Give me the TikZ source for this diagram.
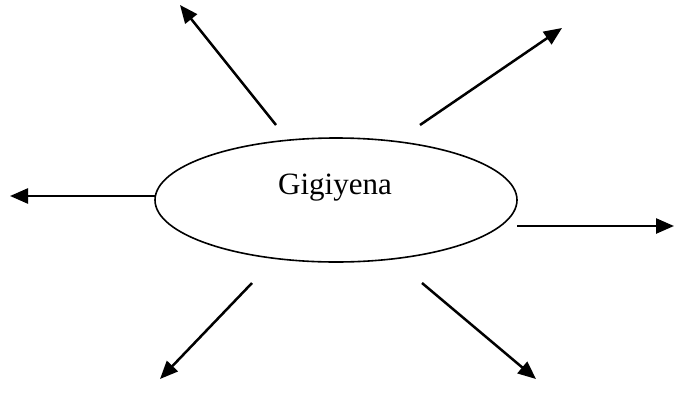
\documentclass[tikz,border=0pt]{standalone}
\usepackage{fontspec}
\setmainfont{Liberation Serif}
\usetikzlibrary{arrows.meta,shapes.geometric}
\begin{document}
\begin{tikzpicture}[x=1pt,y=-1pt,
  conn/.style={line width=2.5pt,-{Triangle[length=18pt,width=15pt]}}]
\useasboundingbox (0,0) rectangle (674,407);
\node[draw,ellipse,line width=1.6pt,minimum width=362pt,minimum height=124pt,inner sep=0pt] (c) at (336,200) {};
\node[font=\fontsize{31}{36}\selectfont] (t) at (335,188) {Gigiyena};
\coordinate (a1s) at (276,125); \coordinate (a1e) at (180,5);
\coordinate (a2s) at (420,125); \coordinate (a2e) at (562,28);
\coordinate (a3s) at (155,196); \coordinate (a3e) at (10,196);
\coordinate (a4s) at (517,226); \coordinate (a4e) at (674,226);
\coordinate (a5s) at (252,283); \coordinate (a5e) at (160,379);
\coordinate (a6s) at (422,283); \coordinate (a6e) at (536,379);
\draw[conn] (a1s) -- (a1e);
\draw[conn] (a2s) -- (a2e);
\draw[conn] (a3s) -- (a3e);
\draw[conn] (a4s) -- (a4e);
\draw[conn] (a5s) -- (a5e);
\draw[conn] (a6s) -- (a6e);
\end{tikzpicture}
\end{document}
